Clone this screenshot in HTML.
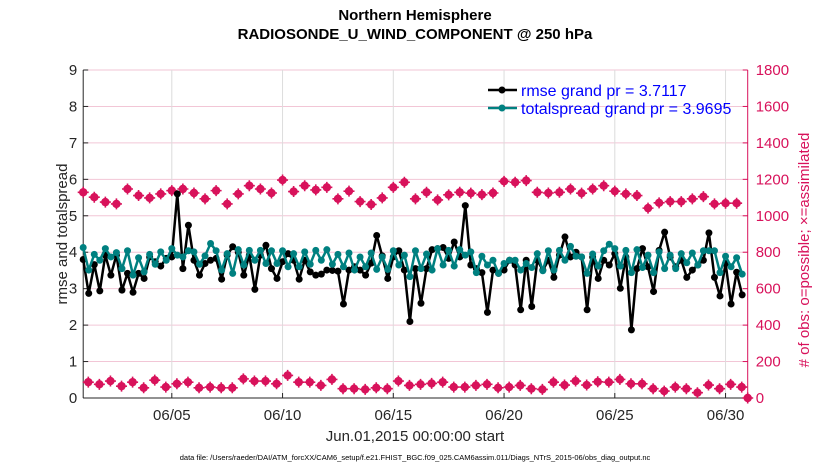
<!DOCTYPE html>
<html><head><meta charset="utf-8"><style>
body{margin:0;background:#fff;}
svg text{font-family:"Liberation Sans",Arial,sans-serif;}
</style></head><body>
<svg id="chart" width="830" height="470" viewBox="0 0 830 470" xmlns="http://www.w3.org/2000/svg">
<rect width="830" height="470" fill="#fff"/>
<g id="grid"></g>
<g id="axes"></g>
<g id="marks"></g>
<g id="labels"></g>
</svg>
<script>
const rmse=[3.80,2.87,3.66,2.94,3.92,3.37,3.92,2.96,3.42,2.90,3.42,3.28,3.87,3.74,3.62,3.83,3.87,5.60,3.55,4.74,3.78,3.37,3.69,3.78,3.83,3.26,3.92,4.15,4.00,3.37,3.92,2.98,3.92,4.19,3.55,3.28,3.74,3.96,3.78,3.26,3.78,
3.46,3.37,3.40,3.51,3.50,3.48,2.58,3.51,3.60,3.51,3.37,3.70,4.46,3.90,3.28,3.87,4.04,3.51,2.10,3.55,2.60,3.55,4.07,4.10,4.13,3.83,4.28,3.87,5.28,3.65,3.55,3.44,2.35,3.51,3.42,3.51,3.78,3.65,2.42,3.78,
2.51,3.78,3.51,3.78,3.31,3.92,4.42,3.87,4.00,3.87,2.42,3.87,3.28,3.78,3.65,3.96,3.01,3.87,1.87,3.55,4.10,3.60,2.92,4.05,4.55,3.87,3.60,3.78,3.31,3.51,3.65,3.78,4.53,3.31,2.80,3.69,2.58,3.45,2.83];
const spread=[4.13,3.51,3.94,3.78,4.10,3.87,3.99,3.55,4.04,3.37,3.85,3.46,3.94,3.67,4.01,3.78,4.10,3.92,3.87,4.04,4.01,3.67,3.90,4.24,4.04,3.51,3.96,3.42,4.07,3.65,4.05,3.78,4.05,3.69,4.04,3.69,4.04,3.60,3.96,3.60,4.01,
3.67,4.05,3.78,4.07,3.67,3.94,3.60,3.98,3.51,3.87,3.60,3.98,3.53,3.87,3.53,4.04,3.65,3.92,3.33,4.04,3.55,3.95,3.51,4.10,3.65,4.05,3.62,4.07,3.92,4.01,3.44,3.89,3.65,3.78,3.42,3.69,3.78,3.78,3.51,3.69,
3.58,3.96,3.49,4.04,3.51,4.05,3.78,4.16,3.89,3.87,3.42,3.95,3.62,4.04,4.22,4.10,3.62,4.05,3.44,4.07,3.58,3.92,3.44,4.01,3.55,3.92,3.55,3.96,3.71,3.98,3.65,4.04,4.04,4.04,3.44,3.89,3.60,3.85,3.40];
const possible=[1129,1102,1075,1065,1147,1111,1098,1120,1138,1147,1125,1093,1138,1065,1120,1165,1147,1125,1196,1133,1165,
1142,1156,1093,1135,1078,1062,1098,1156,1184,1093,1129,1087,1115,1129,1124,1116,1125,1189,1184,1193,
1129,1125,1129,1147,1124,1147,1165,1135,1120,1111,1042,1071,1078,1078,1093,1105,1065,1069,1069];
const assimilated=[87,75,93,65,87,56,98,60,78,87,56,60,56,56,105,93,93,78,124,87,87,
69,102,51,51,47,56,51,93,69,75,80,87,60,60,69,75,56,60,69,51,
47,87,71,93,71,89,87,102,78,78,51,38,60,51,29,71,51,75,60,0];
const xTickLabels=["06/05","06/10","06/15","06/20","06/25","06/30"];
const xTickDays=[4,9,14,19,24,29];
const yTicksLeft=[0,1,2,3,4,5,6,7,8,9];
const yTicksRight=[0,200,400,600,800,1000,1200,1400,1600,1800];

const X0=83.2,X1=747.7,Y0=398,Y1=70;
const xs=d=>X0+(d/30)*(X1-X0);
const yl=v=>Y0-(v/9)*(Y0-Y1);
const yr=v=>Y0-(v/1800)*(Y0-Y1);
const NS="http://www.w3.org/2000/svg";
function mk(tag,attrs,parent,txt){const e=document.createElementNS(NS,tag);for(const k in attrs)e.setAttribute(k,attrs[k]);if(txt!==undefined)e.textContent=txt;document.getElementById(parent).appendChild(e);return e;}
const RED="#d8125b";
yTicksRight.forEach((t,i)=>{if(t===0)return;const g=mk('line',{x1:X0,x2:X1,y1:yr(t),y2:yr(t),stroke:'#f2c6d6','stroke-width':1},'grid');

});
xTickDays.forEach(d=>{const g=mk('line',{x1:xs(d),x2:xs(d),y1:Y1,y2:Y0,stroke:'#dcdcdc','stroke-width':1},'grid');

});
let a=mk('line',{x1:X0,x2:X0,y1:Y1,y2:Y0,stroke:'#262626','stroke-width':1},'axes');


a=mk('line',{x1:X0,x2:X1,y1:Y0,y2:Y0,stroke:'#262626','stroke-width':1},'axes');


a=mk('line',{x1:X1,x2:X1,y1:Y1,y2:Y0,stroke:RED,'stroke-width':1},'axes');


yTicksLeft.forEach(t=>{mk('line',{x1:X0,x2:X0+5,y1:yl(t),y2:yl(t),stroke:'#262626'},'axes');
const l=mk('text',{x:X0-6,y:yl(t)+5,'text-anchor':'end','font-size':15,fill:'#262626'},'labels',String(t));

});
yTicksRight.forEach(t=>{mk('line',{x1:X1-5,x2:X1,y1:yr(t),y2:yr(t),stroke:RED},'axes');
const l=mk('text',{x:X1+8,y:yr(t)+5,'font-size':15,fill:RED},'labels',String(t));

});
xTickDays.forEach((d,i)=>{mk('line',{x1:xs(d),x2:xs(d),y1:Y0,y2:Y0-5,stroke:'#262626'},'axes');
const l=mk('text',{x:xs(d),y:Y0+22,'text-anchor':'middle','font-size':15,fill:'#262626'},'labels',xTickLabels[i]);

});
function star(cx,cy,name){const g=mk('g',{},'marks');


const c=document.createElementNS(NS,'circle');c.setAttribute('cx',cx);c.setAttribute('cy',cy);c.setAttribute('r',4.2);c.setAttribute('fill',RED);g.appendChild(c);
const p=document.createElementNS(NS,'path');p.setAttribute('d',`M${cx-5.5} ${cy}H${cx+5.5}M${cx} ${cy-5.5}V${cy+5.5}`);p.setAttribute('stroke',RED);p.setAttribute('stroke-width',1.6);g.appendChild(p);}
possible.forEach((v,j)=>star(xs(j*0.5),yr(v),'possible-obs-marker'));
assimilated.forEach((v,j)=>star(j<60?xs(j*0.5+0.23):xs(30),yr(v),'assimilated-obs-marker'));
function series(vals,color,name){const pts=vals.map((v,i)=>xs(i*0.25).toFixed(1)+','+yl(v).toFixed(1)).join(' ');
const pl=mk('polyline',{points:pts,fill:'none',stroke:color,'stroke-width':2.5,'stroke-linejoin':'round'},'marks');


vals.forEach((v,i)=>{const c=mk('circle',{cx:xs(i*0.25),cy:yl(v),r:3.5,fill:color},'marks');

});}
series(rmse,'#000','rmse');
series(spread,'#008080','totalspread');
</script>
<svg style="position:absolute;left:0;top:0" width="830" height="470">
<text x="415" y="20" text-anchor="middle" font-size="15" font-weight="bold" fill="#000" font-family="Liberation Sans, sans-serif">Northern Hemisphere</text>
<text x="415" y="39" text-anchor="middle" font-size="15" font-weight="bold" fill="#000" font-family="Liberation Sans, sans-serif">RADIOSONDE_U_WIND_COMPONENT @ 250 hPa</text>
<g font-family="Liberation Sans, sans-serif">
<line x1="488" x2="517" y1="90" y2="90" stroke="#000" stroke-width="2.5"/><circle cx="502" cy="90" r="3.5" fill="#000"/>
<text x="521" y="96" font-size="16" fill="#0000ff">rmse grand pr = 3.7117</text>
<line x1="488" x2="517" y1="108" y2="108" stroke="#008080" stroke-width="2.5"/><circle cx="502" cy="108" r="3.5" fill="#008080"/>
<text x="521" y="114" font-size="16" fill="#0000ff">totalspread grand pr = 3.9695</text>
</g>
<text transform="translate(67,234) rotate(-90)" text-anchor="middle" font-size="15" fill="#262626" font-family="Liberation Sans, sans-serif">rmse and totalspread</text>
<text transform="translate(809,250) rotate(-90)" text-anchor="middle" font-size="15" fill="#d8125b" font-family="Liberation Sans, sans-serif"># of obs: o=possible; ×=assimilated</text>
<text x="415" y="441" text-anchor="middle" font-size="15" fill="#262626" font-family="Liberation Sans, sans-serif">Jun.01,2015 00:00:00 start</text>
<text x="415" y="460" text-anchor="middle" font-size="7.5" fill="#000" font-family="Liberation Sans, sans-serif">data file: /Users/raeder/DAI/ATM_forcXX/CAM6_setup/f.e21.FHIST_BGC.f09_025.CAM6assim.011/Diags_NTrS_2015-06/obs_diag_output.nc</text>
</svg>
</body></html>
